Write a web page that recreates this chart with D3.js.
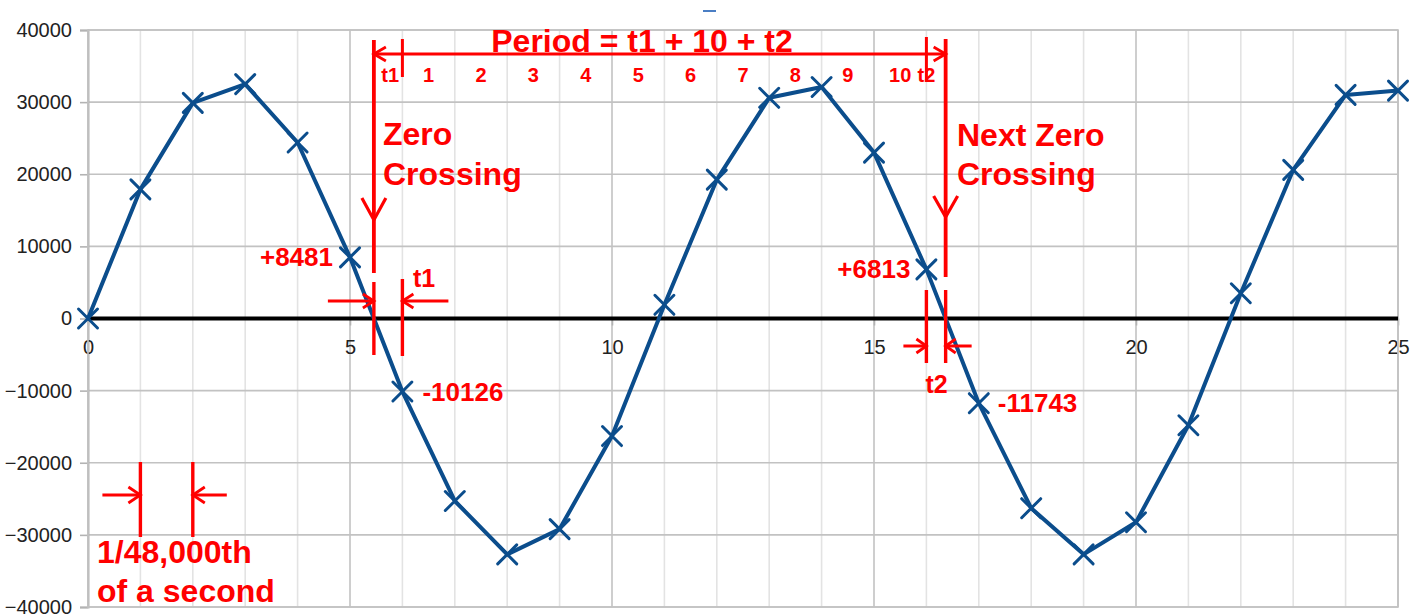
<!DOCTYPE html>
<html>
<head>
<meta charset="utf-8">
<script src="https://cdn.jsdelivr.net/npm/d3@7"></script>
<style>
  body { margin: 0; background: #fff; }
  svg { display: block; }
  text { font-family: "Liberation Sans", Arial, sans-serif; }
</style>
</head>
<body>
<svg id="chart" width="1410" height="614"></svg>
<script>
// Sample number (one sample = 1/48,000th of a second) and its 16-bit amplitude
const sampleIndex = [0, 1, 2, 3, 4, 5, 6, 7, 8, 9, 10, 11, 12, 13, 14, 15, 16, 17, 18, 19, 20, 21, 22, 23, 24, 25];
const amplitude = [0, 17900, 29900, 32500, 24400, 8481, -10126, -25300, -32700, -29200, -16300, 1900,
                   19250, 30600, 32100, 23000, 6813, -11743, -26300, -32700, -28250, -14800, 3500, 20600, 31000, 31600];

const xTicks = [0, 5, 10, 15, 20, 25];
const yTicks = [-40000, -30000, -20000, -10000, 0, 10000, 20000, 30000, 40000];
const periodCounts = ["1", "2", "3", "4", "5", "6", "7", "8", "9", "10"];

// Samples picked out around the two zero crossings
const crossA = 5, crossB = 16;

const svg = d3.select("#chart");
const W = 1410, H = 614;
const plot = { left: 88, right: 1398, top: 30, bottom: 607 };

const x = d3.scaleLinear().domain([0, 25]).range([plot.left, plot.right]);
const y = d3.scaleLinear().domain([-40000, 40000]).range([plot.bottom, plot.top]);

svg.append("rect").attr("width", W).attr("height", H).attr("fill", "#fff");

// ---- grid ----
const grid = svg.append("g");
const minorX = d3.range(0, 26);
grid.selectAll("line.vx").data(minorX).join("line")
  .attr("x1", d => x(d)).attr("x2", d => x(d))
  .attr("y1", plot.top).attr("y2", plot.bottom)
  .attr("stroke", d => d % 5 === 0 ? "#c2c2c2" : "#e3e3e3")
  .attr("stroke-width", 1.6);
grid.selectAll("line.hy").data(yTicks).join("line")
  .attr("x1", plot.left).attr("x2", plot.right)
  .attr("y1", d => y(d)).attr("y2", d => y(d))
  .attr("stroke", "#c2c2c2").attr("stroke-width", 1.6);

// ---- axes ----
const yAxis = svg.append("g")
  .attr("transform", `translate(${plot.left},0)`)
  .call(d3.axisLeft(y).tickValues(yTicks).tickSize(8).tickPadding(8).tickFormat(d3.format("d")));
yAxis.select(".domain").attr("stroke", "#b3b3b3").attr("stroke-width", 2);
yAxis.selectAll(".tick line").attr("stroke", "#b3b3b3").attr("stroke-width", 1.6);
yAxis.selectAll("text").attr("font-size", 20).attr("fill", "#222")
  .style("font-family", "'Liberation Sans', Arial, sans-serif");

const xAxis = svg.append("g")
  .attr("transform", `translate(0,${y(0)})`)
  .call(d3.axisBottom(x).tickValues(xTicks).tickSize(7).tickPadding(14).tickFormat(d3.format("d")));
xAxis.select(".domain").remove();
xAxis.selectAll(".tick line").attr("stroke", "#b3b3b3").attr("stroke-width", 1.6);
xAxis.selectAll("text").attr("font-size", 20).attr("fill", "#222")
  .style("font-family", "'Liberation Sans', Arial, sans-serif");

// plot frame
svg.append("rect")
  .attr("x", plot.left).attr("y", plot.top)
  .attr("width", plot.right - plot.left).attr("height", plot.bottom - plot.top)
  .attr("fill", "none").attr("stroke", "#c2c2c2").attr("stroke-width", 1.6);

// zero line
svg.append("line")
  .attr("x1", plot.left).attr("x2", plot.right)
  .attr("y1", y(0)).attr("y2", y(0))
  .attr("stroke", "#000").attr("stroke-width", 4);

// small legend stub above the plot
svg.append("line").attr("x1", 703).attr("x2", 716).attr("y1", 11).attr("y2", 11)
  .attr("stroke", "#4a7ec4").attr("stroke-width", 2);

// ---- waveform ----
const pts = sampleIndex.map((s, i) => [s, amplitude[i]]);
const blue = "#0b4d8c";
svg.append("path")
  .datum(pts)
  .attr("fill", "none").attr("stroke", blue).attr("stroke-width", 4)
  .attr("stroke-linejoin", "round")
  .attr("d", d3.line().x(d => x(d[0])).y(d => y(d[1])));

const m = 9.5;
const marks = svg.append("g").attr("stroke", blue).attr("stroke-width", 3).attr("stroke-linecap", "round");
marks.selectAll("path").data(pts).join("path")
  .attr("d", d => {
    const cx = x(d[0]), cy = y(d[1]);
    return `M${cx - m},${cy - m}L${cx + m},${cy + m}M${cx - m},${cy + m}L${cx + m},${cy - m}`;
  });

// ---- annotations ----
const red = "#ff0000";
const ann = svg.append("g").attr("stroke", red).attr("fill", "none").attr("stroke-linecap", "butt");
const seg = (x1, y1, x2, y2, w = 3.4) =>
  ann.append("line").attr("x1", x1).attr("y1", y1).attr("x2", x2).attr("y2", y2).attr("stroke-width", w);
// open arrow head; (dx, dy) = unit vector of travel
const head = (tx, ty, dx, dy, len, spread, w = 3) => {
  const px = -dy, py = dx;
  ann.append("path")
    .attr("d", `M${tx - dx * len + px * spread},${ty - dy * len + py * spread}L${tx},${ty}L${tx - dx * len - px * spread},${ty - dy * len - py * spread}`)
    .attr("stroke-width", w);
};

// zero crossings by linear interpolation between neighbouring samples
const zc1 = crossA + amplitude[crossA] / (amplitude[crossA] - amplitude[crossA + 1]);
const zc2 = crossB + amplitude[crossB] / (amplitude[crossB] - amplitude[crossB + 1]);
const X1 = x(zc1), X2 = x(zc2);

// vertical "zero crossing" arrows
seg(X1, 40, X1, 273, 3.8);
head(X1, 220, 0, 1, 22, 12, 3.2);
seg(X2, 39, X2, 277, 3.8);
head(X2, 217, 0, 1, 21, 12, 3.2);

// period bracket
const bracketY = 54;
seg(X1, bracketY, X2, bracketY, 3.2);
head(X1, bracketY, -1, 0, 12, 7, 2.8);
head(X2, bracketY, 1, 0, 12, 7, 2.8);
seg(x(crossA + 1), 39, x(crossA + 1), 77, 3);
seg(x(crossB), 37, x(crossB), 80, 3);

// t1 measurement
seg(X1, 282, X1, 355, 3.4);
seg(x(crossA + 1), 279, x(crossA + 1), 356, 3.4);
seg(X1 - 46, 301, X1, 301, 3);
head(X1, 301, 1, 0, 11, 7, 2.8);
seg(x(crossA + 1) + 46, 301, x(crossA + 1), 301, 3);
head(x(crossA + 1), 301, -1, 0, 11, 7, 2.8);

// t2 measurement
seg(x(crossB), 290, x(crossB), 363, 3.4);
seg(X2, 290, X2, 363, 3.4);
seg(x(crossB) - 23, 346, x(crossB), 346, 3);
head(x(crossB), 346, 1, 0, 10, 7, 2.8);
seg(X2 + 26, 346, X2, 346, 3);
head(X2, 346, -1, 0, 10, 7, 2.8);

// one-sample width
seg(x(1), 462, x(1), 537, 3.4);
seg(x(2), 462, x(2), 537, 3.4);
seg(x(1) - 38, 495, x(1), 495, 3);
head(x(1), 495, 1, 0, 12, 8, 2.8);
seg(x(2) + 34, 495, x(2), 495, 3);
head(x(2), 495, -1, 0, 12, 8, 2.8);

// ---- annotation text ----
const txt = (s, tx, ty, size, anchor = "start") =>
  svg.append("text").attr("x", tx).attr("y", ty).attr("font-size", size)
    .attr("font-weight", "bold").attr("fill", red).attr("text-anchor", anchor).text(s);

txt("Period = t1 + 10 + t2", 642, 52, 32, "middle");
txt("t1", (X1 + x(crossA + 1)) / 2 + 2, 82, 20, "middle");
periodCounts.forEach((c, i) => txt(c, x(crossA + 1 + i + 0.5), 82, 20, "middle"));
txt("t2", x(crossB), 82, 20, "middle");

txt("Zero", 383, 145, 32);
txt("Crossing", 383, 185, 32);
txt("Next Zero", 957, 146, 32);
txt("Crossing", 957, 185, 32);

// sample values next to their points
txt("+" + amplitude[crossA], x(crossA) - 17, y(amplitude[crossA]) + 9, 26, "end");
txt(String(amplitude[crossA + 1]), x(crossA + 1) + 20, y(amplitude[crossA + 1]) + 9, 26, "start");
txt("+" + amplitude[crossB], x(crossB) - 16, y(amplitude[crossB]) + 9, 26, "end");
txt(String(amplitude[crossB + 1]), x(crossB + 1) + 19, y(amplitude[crossB + 1]) + 9, 26, "start");

txt("t1", 413, 287, 25);
txt("t2", X2 - 9, 393, 25, "middle");

txt("1/48,000th", 97, 563, 32);
txt("of a second", 97, 602, 32);
</script>
</body>
</html>
